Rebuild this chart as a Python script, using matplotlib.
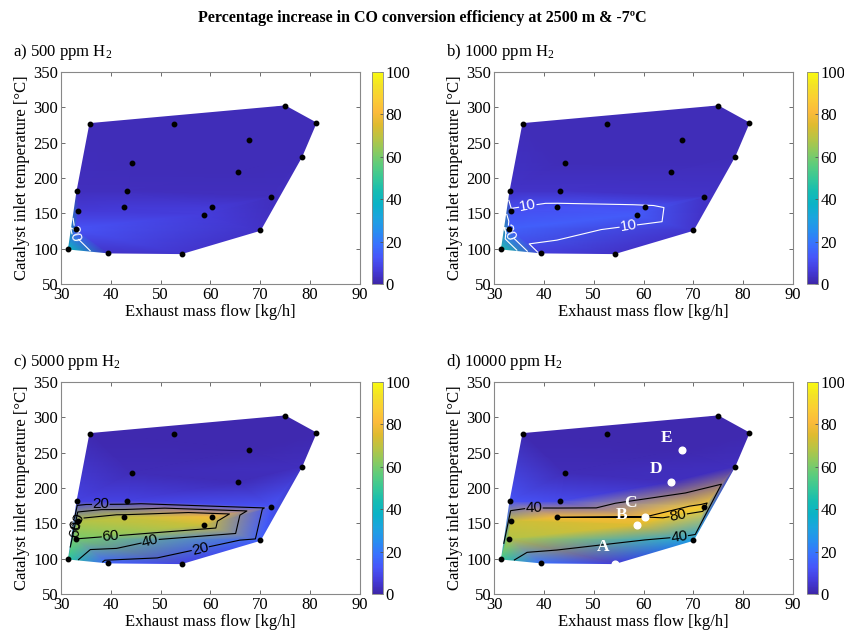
import numpy as np
import matplotlib
matplotlib.use("Agg")
import matplotlib.pyplot as plt
import matplotlib.tri as mtri
from matplotlib.colors import LinearSegmentedColormap

plt.rcParams['font.family'] = ['Liberation Serif', 'DejaVu Serif']
plt.rcParams['mathtext.fontset'] = 'custom'
plt.rcParams['mathtext.rm'] = 'Liberation Serif'
plt.rcParams['mathtext.default'] = 'regular'

# measured operating points (same in every panel)
mass_flow = [31.5, 33.0, 33.5, 33.2, 35.8, 39.5, 42.7, 43.2, 44.2, 52.7,
             54.2, 58.7, 60.3, 65.5, 67.8, 70.0, 72.2, 75.0, 78.3, 81.2]
inlet_temp = [99.5, 128, 153, 181, 277, 94, 158.5, 181.5, 221, 277,
              93, 148, 159, 208, 254, 126, 173.5, 302, 230, 278]

# percentage increase in CO conversion efficiency at each point
incr_500 = [40, 12, 6, 3, 2, 4, 6, 3, 2, 2,
            5, 7, 6, 2, 2, 4, 3, 2, 2, 2]
incr_1000 = [45, 15, 11, 4, 2, 7, 12, 4, 2, 2,
             4, 14, 11, 3, 2, 5, 4, 2, 2, 2]
incr_5000 = [48, 60, 68, 8, 1, 15, 70, 8, 2, 1,
             8, 72, 80, 2, 1, 15, 12, 1, 3, 1]
incr_10000 = [50, 68, 72, 12, 1, 18, 80, 10, 2, 1,
              6, 75, 80, 3, 1, 30, 88, 1, 3, 1]

panel_titles = ['a) 500 ppm H$_2$', 'b) 1000 ppm H$_2$',
                'c) 5000 ppm H$_2$', 'd) 10000 ppm H$_2$']
panel_values = [incr_500, incr_1000, incr_5000, incr_10000]
panel_levels = [[20], [10, 20, 30], [20, 40, 60, 80], [40, 80]]
panel_line_colors = ['white', 'white', 'black', 'black']
# approximate spots where the contour labels sit
label_spots = [
    [(32.7, 122)],
    [(37, 153), (57, 130), (32.8, 122)],
    [(38, 177), (34, 152), (34, 146), (40, 128), (48, 122), (58, 113)],
    [(38, 169), (67, 160), (67, 140)],
]

# labelled points in panel d and label offsets (points)
marked_idx = [10, 11, 12, 13, 14]
marked_names = ['A', 'B', 'C', 'D', 'E']
marked_offsets = [(-4, 6), (-7, 1), (-6, 4), (-6, 4), (-7, 3)]

# MATLAB parula-like colormap
parula_colors = [
    (0.2422, 0.1504, 0.6603), (0.2691, 0.2318, 0.8564), (0.2783, 0.3358, 0.9780),
    (0.2196, 0.4486, 0.9953), (0.1540, 0.5602, 0.9418), (0.1085, 0.6448, 0.8726),
    (0.0383, 0.7005, 0.7827), (0.0835, 0.7384, 0.7002), (0.2161, 0.7843, 0.5923),
    (0.3602, 0.8011, 0.4911), (0.5386, 0.7920, 0.3785), (0.7204, 0.7683, 0.2687),
    (0.8710, 0.7330, 0.1870), (0.9873, 0.7314, 0.2338), (0.9842, 0.8047, 0.2074),
    (0.9553, 0.8842, 0.1523), (0.9763, 0.9831, 0.0538)]
parula = LinearSegmentedColormap.from_list('parula', parula_colors)

fig = plt.figure(figsize=(8.45, 6.35), dpi=100)
fig.text(0.5, 0.972, 'Percentage increase in CO conversion efficiency at 2500 m & -7ºC',
         ha='center', va='center', fontsize=11.5, fontweight='bold')

ax_pos = [(61, 72), (494, 72), (61, 382), (494, 382)]
cb_pos = [372, 807, 372, 807]
W, H = 845.0, 635.0
tri = mtri.Triangulation(mass_flow, inlet_temp)

for i in range(4):
    x0, y0 = ax_pos[i]
    ax = fig.add_axes([x0 / W, 1 - (y0 + 212) / H, 299 / W, 212 / H])
    cax = fig.add_axes([cb_pos[i] / W, 1 - (y0 + 212) / H, 11.5 / W, 212 / H])

    z = np.array(panel_values[i], dtype=float)
    tpc = ax.tripcolor(tri, z, shading='gouraud', cmap=parula, vmin=0, vmax=100)
    cs = ax.tricontour(tri, z, levels=panel_levels[i],
                       colors=panel_line_colors[i], linewidths=0.8)
    ax.clabel(cs, fmt='%d', fontsize=11, inline=True, inline_spacing=3,
              colors=panel_line_colors[i], manual=label_spots[i])
    for t in cs.labelTexts:
        t.set_family(['Liberation Sans', 'DejaVu Sans'])

    if i == 3:
        keep = [k for k in range(len(mass_flow)) if k not in marked_idx]
        ax.plot([mass_flow[k] for k in keep], [inlet_temp[k] for k in keep],
                'o', color='black', markersize=3.2, zorder=5)
        ax.plot([mass_flow[k] for k in marked_idx], [inlet_temp[k] for k in marked_idx],
                'o', color='white', markersize=4.8, zorder=5)
        for k, name, off in zip(marked_idx, marked_names, marked_offsets):
            ax.annotate(name, (mass_flow[k], inlet_temp[k]), xytext=off,
                        textcoords='offset points', ha='right', va='bottom',
                        color='white', fontsize=12.5, fontweight='bold')
    else:
        ax.plot(mass_flow, inlet_temp, 'o', color='black', markersize=3.2, zorder=5)

    ax.set_xlim(30, 90)
    ax.set_ylim(50, 350)
    ax.set_xticks(range(30, 91, 10))
    ax.set_yticks(range(50, 351, 50))
    ax.tick_params(direction='in', top=True, right=True, labelsize=12,
                   length=3, width=0.6, color='#555555', pad=2)
    for s in ax.spines.values():
        s.set_color('#888888')
        s.set_linewidth(0.8)
    ax.set_xlabel('Exhaust mass flow [kg/h]', fontsize=12, labelpad=1)
    ax.set_ylabel('Catalyst inlet temperature [°C]', fontsize=12, labelpad=2)
    fig.text((x0 - 48) / W, 1 - (y0 - 20) / H, panel_titles[i],
             ha='left', va='center', fontsize=12)

    cb = fig.colorbar(tpc, cax=cax, ticks=range(0, 101, 20))
    cb.ax.tick_params(labelsize=12, direction='in', length=2, width=0.6,
                      color='#555555', pad=1.5)
    cb.outline.set_edgecolor('#888888')
    cb.outline.set_linewidth(0.6)

fig.savefig('out.png', dpi=100)
